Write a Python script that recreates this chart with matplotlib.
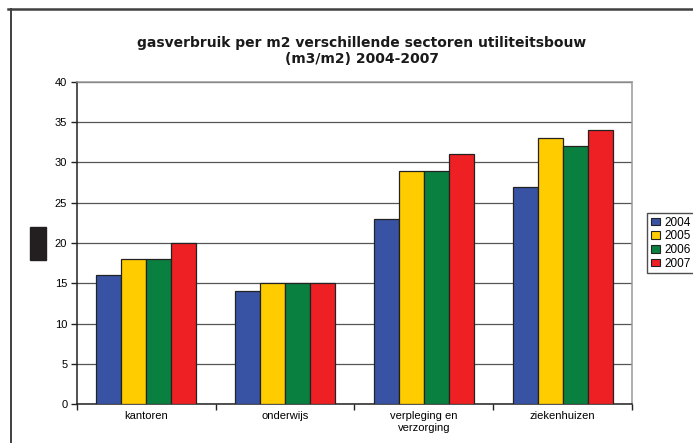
import matplotlib
matplotlib.use("Agg")
import matplotlib.pyplot as plt
import numpy as np
from matplotlib.lines import Line2D
from matplotlib.patches import Rectangle

plt.rcParams['font.family'] = ['Liberation Sans', 'DejaVu Sans']

categories = ["kantoren", "onderwijs", "verpleging en\nverzorging", "ziekenhuizen"]
years = ["2004", "2005", "2006", "2007"]
values = {
    "2004": [16, 14, 23, 27],
    "2005": [18, 15, 29, 33],
    "2006": [18, 15, 29, 32],
    "2007": [20, 15, 31, 34],
}
colors = ["#3953A4", "#FFCC00", "#0A8040", "#EE2024"]
yticks = [0, 5, 10, 15, 20, 25, 30, 35, 40]

W, H = 693, 443
fig = plt.figure(figsize=(W / 100, H / 100), dpi=100)

# outer chart frame (top and left edges)
fig.add_artist(Line2D([8 / W, 1], [1 - 9 / H, 1 - 9 / H], color="#404040", lw=1.8,
                      transform=fig.transFigure))
fig.add_artist(Line2D([11 / W, 11 / W], [0, 1 - 9 / H], color="#404040", lw=1.4,
                      transform=fig.transFigure))

ax = fig.add_axes([77 / W, (H - 404) / H, 555 / W, 322 / H])

x = np.arange(len(categories))
bw = 0.18
for i, (yr, col) in enumerate(zip(years, colors)):
    ax.bar(x + (i - 1.5) * bw, values[yr], width=bw, color=col,
           edgecolor="#222222", linewidth=0.9, label=yr, zorder=3)

ax.set_xlim(-0.5, len(categories) - 0.5)
ax.set_ylim(0, 40)
ax.set_yticks(yticks)
ax.set_yticklabels([str(t) for t in yticks], fontsize=8)
ax.yaxis.grid(True, color="#555555", lw=0.9, zorder=0)
ax.set_axisbelow(True)

ax.set_xticks(x)
ax.set_xticklabels(categories, fontsize=8, linespacing=1.2)
ax.set_xticks(np.arange(-0.5, len(categories)), minor=True)
ax.tick_params(axis="x", which="major", length=0, pad=5)
ax.tick_params(axis="x", which="minor", length=4, width=1, color="#222222", direction="out")
ax.tick_params(axis="y", length=4, width=1, color="#222222", direction="out", pad=3)

for s in ["left", "bottom"]:
    ax.spines[s].set_color("#222222")
    ax.spines[s].set_linewidth(1.1)
for s in ["top", "right"]:
    ax.spines[s].set_color("#999999")
    ax.spines[s].set_linewidth(1.1)

title_font = dict(ha="center", va="center", fontsize=10, fontweight="bold",
                  family=["DejaVu Sans"], color="#1a1a1a")
fig.text(362 / W, 1 - 43 / H, "gasverbruik per m2 verschillende sectoren utiliteitsbouw",
         **title_font)
fig.text(362 / W, 1 - 59 / H, "(m3/m2) 2004-2007", **title_font)

# dark marker block left of the value axis
fig.add_artist(Rectangle((30 / W, 1 - 260 / H), 16 / W, 33 / H, color="#231F20",
                         transform=fig.transFigure))

handles = [Rectangle((0, 0), 1, 1, facecolor=c, edgecolor="#222222", lw=0.8) for c in colors]
leg = fig.legend(handles, years, loc="upper left",
                 bbox_to_anchor=(647 / W, 1 - 213 / H), bbox_transform=fig.transFigure,
                 fontsize=8.5, frameon=True, fancybox=False, edgecolor="#222222",
                 handlelength=0.8, handleheight=0.6, handletextpad=0.4,
                 labelspacing=0.15, borderpad=0.3, borderaxespad=0)
leg.get_frame().set_linewidth(1.0)

fig.savefig("out.png", dpi=100)
